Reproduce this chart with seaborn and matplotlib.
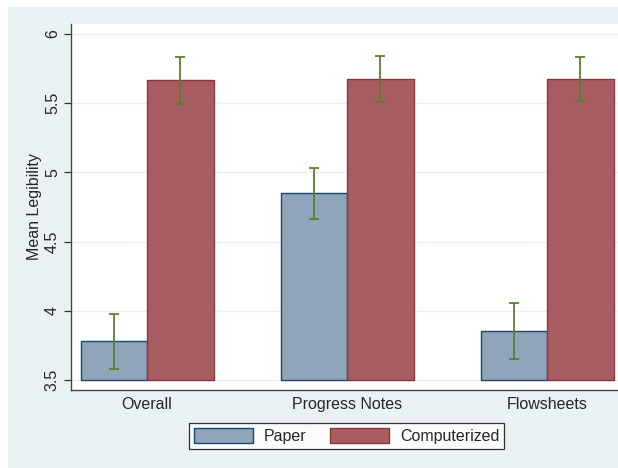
import matplotlib
matplotlib.use("Agg")
import matplotlib.pyplot as plt
from matplotlib.patches import Rectangle, Patch
import seaborn as sns
import pandas as pd
import numpy as np

# Mean legibility scores with 95% confidence half-widths
categories = ["Overall", "Progress Notes", "Flowsheets"]
groups = ["Paper", "Computerized"]
paper_mean = [3.78, 4.85, 3.854]
paper_ci = [0.20, 0.185, 0.20]
computer_mean = [5.667, 5.677, 5.675]
computer_ci = [0.17, 0.167, 0.16]
y_ticks = [3.5, 4, 4.5, 5, 5.5, 6]
y_ticklabels = ["3.5", "4", "4.5", "5", "5.5", "6"]

df = pd.DataFrame({
    "category": categories * 2,
    "group": [groups[0]] * 3 + [groups[1]] * 3,
    "mean": paper_mean + computer_mean,
    "ci": paper_ci + computer_ci,
})

bg = "#EAF1F3"
fills = {"Paper": "#8EA4B8", "Computerized": "#A65C61"}
edges = {"Paper": "#1A476F", "Computerized": "#90353B"}
err_color = "#5B7F2E"
fs = 11.5

sns.set_theme(style="white")
plt.rcParams["font.family"] = ["Liberation Sans", "DejaVu Sans"]

fig = plt.figure(figsize=(6.18, 4.68), dpi=100, facecolor="white")
fig.patches.append(Rectangle((8 / 618, 0), 1, 1 - 7 / 468, transform=fig.transFigure,
                             facecolor=bg, edgecolor="none", zorder=-10))
ax = fig.add_axes([71 / 618, 1 - 390 / 468, 1 - 71 / 618, (390 - 24) / 468])
ax.set_facecolor("white")

sns.barplot(data=df, x="category", y="mean", hue="group", order=categories,
            hue_order=groups, palette=fills, saturation=1, errorbar=None,
            width=0.665, ax=ax, legend=False, zorder=2)

# Outline each bar in a darker shade of its fill and attach its error bar
n = len(categories)
for i, patch in enumerate(ax.patches[: 2 * n]):
    g = groups[i // n]
    patch.set_edgecolor(edges[g])
    patch.set_linewidth(1.0)
    row = df[(df["group"] == g)].iloc[i % n]
    cx = patch.get_x() + patch.get_width() / 2
    ax.errorbar(cx, row["mean"], yerr=row["ci"], color=err_color, lw=1.3,
                capsize=3.5, capthick=1.3, fmt="none", zorder=3)

# Bars start from the bottom of the axis
for patch in ax.patches[: 2 * n]:
    y0 = 3.5
    h = patch.get_y() + patch.get_height() - y0
    patch.set_y(y0)
    patch.set_height(h)

ax.set_ylim(3.5 - 10 / 138.4, 6 + 10 / 138.4)
ax.set_xlim(-0.38, 2.355)
ax.set_yticks(y_ticks)
ax.set_yticklabels(y_ticklabels, rotation=90, va="center", fontsize=fs)
ax.tick_params(axis="y", length=5, width=0.9, color="#333333", pad=3, left=True)
ax.tick_params(axis="x", length=0, labelsize=fs, pad=5)
ax.yaxis.grid(True, color=bg, lw=1.0, zorder=0)
ax.set_axisbelow(True)
ax.set_xlabel("")
ax.set_ylabel("Mean Legibility", fontsize=fs)
ax.yaxis.set_label_coords(-0.053, 0.5)

for side in ("top", "right"):
    ax.spines[side].set_visible(False)
for side in ("left", "bottom"):
    ax.spines[side].set_color("#444444")
    ax.spines[side].set_linewidth(1.0)

handles = [Patch(facecolor=fills[g], edgecolor=edges[g], label=g) for g in groups]
leg = fig.legend(handles=handles, loc="center", bbox_to_anchor=(346.5 / 618, 1 - 436 / 468),
                 ncol=2, frameon=True, fancybox=False, fontsize=fs,
                 handlelength=3.7, handleheight=1.1, columnspacing=1.45,
                 handletextpad=0.7, borderpad=0.3, borderaxespad=0)
leg.get_frame().set_edgecolor("black")
leg.get_frame().set_linewidth(0.9)
leg.get_frame().set_facecolor("white")

fig.savefig("out.png", dpi=100, facecolor=fig.get_facecolor())
